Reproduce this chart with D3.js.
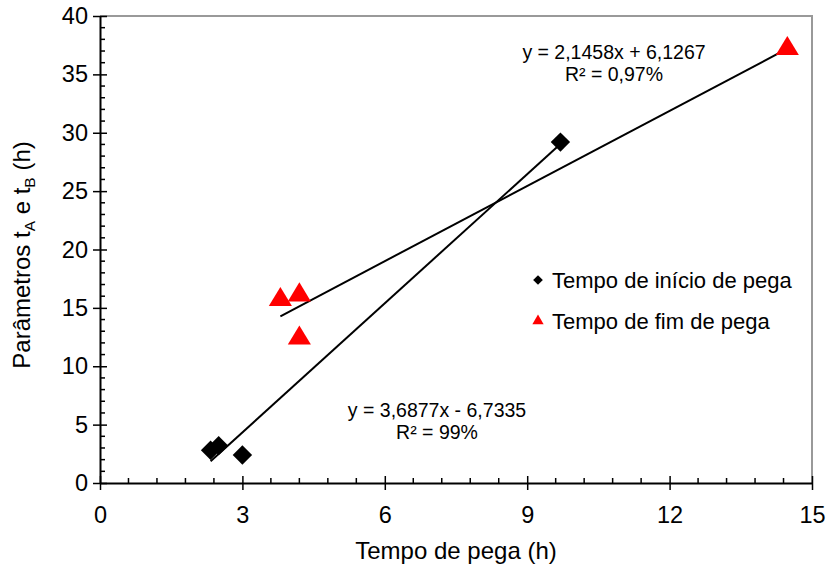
<!DOCTYPE html>
<html>
<head>
<meta charset="utf-8">
<script src="https://cdn.jsdelivr.net/npm/d3@7"></script>
<style>
  html, body { margin: 0; padding: 0; background: #fff; }
  svg { display: block; font-family: "Liberation Sans", Arial, sans-serif; }
</style>
</head>
<body>
<svg id="chart" width="829" height="568"></svg>
<script>
// Tempo de início de pega (diamonds)
const inicioX = [2.33, 2.5, 3.0, 9.7];
const inicioY = [2.8, 3.2, 2.4, 29.2];
// Tempo de fim de pega (triangles)
const fimX = [3.8, 4.2, 4.2, 14.48];
const fimY = [15.7, 16.1, 12.4, 37.2];

// Linear fits shown on the chart
const fitInicio = { slope: 3.6877, intercept: -6.7335, eq: "y = 3,6877x - 6,7335", r2: "R² = 99%" };
const fitFim = { slope: 2.1458, intercept: 6.1267, eq: "y = 2,1458x + 6,1267", r2: "R² = 0,97%" };

const xTicks = [0, 3, 6, 9, 12, 15];
const yTicks = [0, 5, 10, 15, 20, 25, 30, 35, 40];
const legendLabels = ["Tempo de início de pega", "Tempo de fim de pega"];

const svg = d3.select("#chart");
const pL = 100, pR = 812, pT = 16, pB = 483;

const x = d3.scaleLinear().domain([0, 15]).range([pL, pR]);
const y = d3.scaleLinear().domain([0, 40]).range([pB, pT]);

// plot frame (top and right edges)
svg.append("path")
  .attr("d", `M${pL},${pT}H${pR}V${pB}`)
  .attr("fill", "none").attr("stroke", "#999").attr("stroke-width", 2);

// minor ticks
const xMinor = d3.range(0, 15.001, 0.6).filter(v => !xTicks.some(t => Math.abs(t - v) < 1e-6));
svg.append("g").selectAll("line").data(xMinor).join("line")
  .attr("x1", d => x(d)).attr("x2", d => x(d))
  .attr("y1", pB).attr("y2", pB - 5)
  .attr("stroke", "#000").attr("stroke-width", 1.5);
const yMinor = d3.range(0, 40.001, 1).filter(v => v % 5 !== 0);
svg.append("g").selectAll("line").data(yMinor).join("line")
  .attr("x1", pL).attr("x2", pL + 5)
  .attr("y1", d => y(d)).attr("y2", d => y(d))
  .attr("stroke", "#000").attr("stroke-width", 1.5);

// axes
const xAxis = svg.append("g").attr("transform", `translate(0,${pB})`)
  .call(d3.axisBottom(x).tickValues(xTicks).tickSize(0).tickPadding(23).tickFormat(d3.format("d")));
xAxis.select(".domain").attr("stroke", "#000").attr("stroke-width", 2);
xAxis.selectAll(".tick line").attr("y1", -7).attr("y2", 7).attr("stroke", "#000").attr("stroke-width", 1.5);
xAxis.selectAll(".tick text").attr("font-size", 23.5).attr("font-family", "Liberation Sans, Arial").attr("fill", "#000");

const yAxis = svg.append("g").attr("transform", `translate(${pL},0)`)
  .call(d3.axisLeft(y).tickValues(yTicks).tickSize(0).tickPadding(12).tickFormat(d3.format("d")));
yAxis.select(".domain").attr("stroke", "#000").attr("stroke-width", 2);
yAxis.selectAll(".tick line").attr("x1", -7).attr("x2", 7).attr("stroke", "#000").attr("stroke-width", 1.5);
yAxis.selectAll(".tick text").attr("font-size", 23.5).attr("font-family", "Liberation Sans, Arial").attr("fill", "#000");

// axis titles
svg.append("text")
  .attr("x", (pL + pR) / 2).attr("y", 559)
  .attr("text-anchor", "middle").attr("font-size", 24).text("Tempo de pega (h)");

const yt = svg.append("text")
  .attr("transform", `translate(30,255) rotate(-90)`)
  .attr("text-anchor", "middle").attr("font-size", 24);
yt.append("tspan").text("Parâmetros t");
yt.append("tspan").attr("dy", 5).attr("font-size", 15.5).text("A");
yt.append("tspan").attr("dy", -5).text(" e t");
yt.append("tspan").attr("dy", 5).attr("font-size", 15.5).text("B");
yt.append("tspan").attr("dy", -5).text("  (h)");

// trend lines, spanning each series' x range
function trend(xs, fit) {
  const [x0, x1] = d3.extent(xs);
  svg.append("line")
    .attr("x1", x(x0)).attr("y1", y(fit.slope * x0 + fit.intercept))
    .attr("x2", x(x1)).attr("y2", y(fit.slope * x1 + fit.intercept))
    .attr("stroke", "#000").attr("stroke-width", 2);
}
trend(inicioX, fitInicio);
trend(fimX, fitFim);

// markers
const diamond = d3.symbol().type(d3.symbolDiamond2).size(240);
const triangle = d3.symbol().type(d3.symbolTriangle).size(210);

svg.append("g").selectAll("path").data(d3.zip(fimX, fimY)).join("path")
  .attr("d", triangle)
  .attr("transform", d => `translate(${x(d[0])},${y(d[1])}) scale(1.05,1)`)
  .attr("fill", "#ff0000");

svg.append("g").selectAll("path").data(d3.zip(inicioX, inicioY)).join("path")
  .attr("d", diamond)
  .attr("transform", d => `translate(${x(d[0])},${y(d[1])})`)
  .attr("fill", "#000");

// equation labels
function eqLabel(fit, cx, cy) {
  const g = svg.append("g").attr("font-size", 19.5).attr("text-anchor", "middle");
  g.append("text").attr("x", cx).attr("y", cy).text(fit.eq);
  g.append("text").attr("x", cx).attr("y", cy + 21.5).text(fit.r2);
}
eqLabel(fitFim, 614, 59);
eqLabel(fitInicio, 437, 417);

// legend
const legend = svg.append("g");
legend.append("path").attr("d", d3.symbol().type(d3.symbolDiamond2).size(60))
  .attr("transform", "translate(538,280)").attr("fill", "#000");
legend.append("path").attr("d", d3.symbol().type(d3.symbolTriangle).size(55))
  .attr("transform", "translate(538,321)").attr("fill", "#ff0000");
legend.selectAll("text").data(legendLabels).join("text")
  .attr("x", 552).attr("y", (d, i) => 288 + i * 41)
  .attr("font-size", 22).text(d => d);
</script>
</body>
</html>
